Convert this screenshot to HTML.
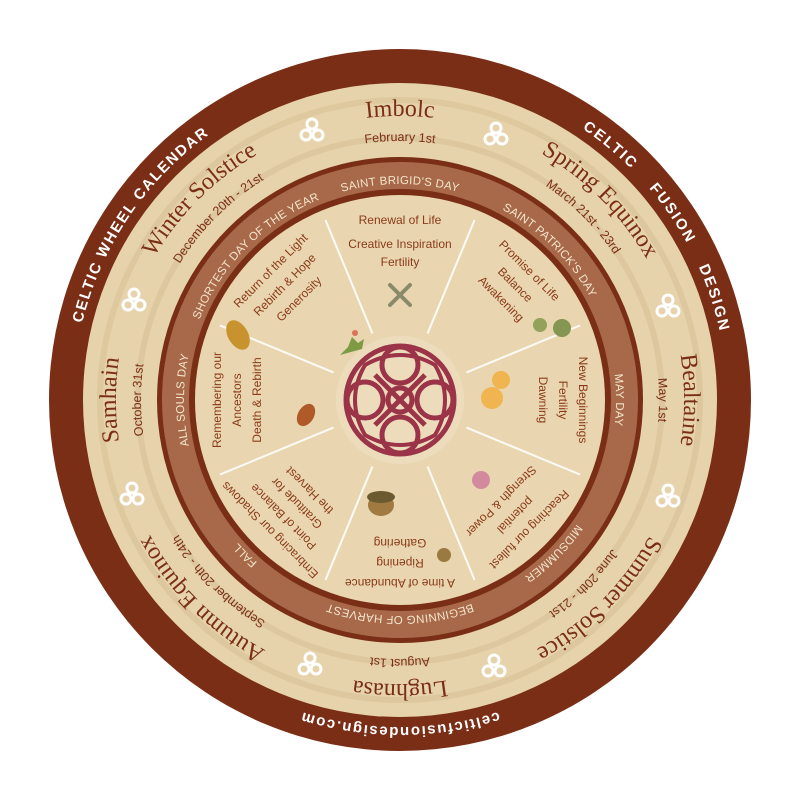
<!DOCTYPE html>
<html><head><meta charset="utf-8"><style>
html,body{margin:0;padding:0;background:#fff;width:800px;height:800px;overflow:hidden}
svg{display:block}
.t{font-family:"Liberation Serif",serif;font-size:24px;fill:#7a2e16}
.d{font-family:"Liberation Sans",sans-serif;font-size:12.5px;fill:#7a2e16}
.r{font-family:"Liberation Sans",sans-serif;font-size:11.5px;fill:#f3e6cc;letter-spacing:0.3px}
.o{font-family:"Liberation Sans",sans-serif;font-size:15px;fill:#fff;font-weight:bold;letter-spacing:1.6px}
.i{font-family:"Liberation Sans",sans-serif;font-size:12px;fill:#8a3a1a;text-anchor:middle}
</style></head><body>
<svg width="800" height="800" viewBox="0 0 800 800" xmlns="http://www.w3.org/2000/svg">
<defs>
<path id="p327" d="M 116.8 236.5 A 327 327 0 0 1 683.2 236.5"/>
<path id="p284" d="M 154 258 A 284 284 0 0 1 646 258"/>
<path id="p259" d="M 175.7 270.5 A 259 259 0 0 1 624.3 270.5"/>
<path id="p216" d="M 212.9 292 A 216 216 0 0 1 587.1 292"/>
<g id="tri" fill="none" stroke="#fff" stroke-width="3">
<circle cx="0" cy="-6" r="5"/><circle cx="-6" cy="5" r="5"/><circle cx="6" cy="5" r="5"/>
</g>
</defs>
<circle cx="400" cy="400" r="351" fill="#7a2e16"/>
<circle cx="400" cy="400" r="317" fill="#e6d2ab"/>
<g fill="none" stroke="#dcc59b" stroke-width="6" opacity="0.8">
<circle cx="400" cy="400" r="300"/><circle cx="400" cy="400" r="262" />
</g>
<circle cx="400" cy="400" r="243" fill="#7a2e16"/>
<circle cx="400" cy="400" r="238" fill="#a8694a"/>
<circle cx="400" cy="400" r="211" fill="#7a2e16"/>
<circle cx="400" cy="400" r="205" fill="#e9d6b0"/>
<g stroke="#fff" stroke-width="2" opacity="0.9">
<g id="sp"><line x1="400" y1="328" x2="400" y2="205" transform="rotate(22.5 400 400)"/></g>
<use href="#sp" transform="rotate(45 400 400)"/><use href="#sp" transform="rotate(90 400 400)"/>
<use href="#sp" transform="rotate(135 400 400)"/><use href="#sp" transform="rotate(180 400 400)"/>
<use href="#sp" transform="rotate(225 400 400)"/><use href="#sp" transform="rotate(270 400 400)"/>
<use href="#sp" transform="rotate(315 400 400)"/>
</g>
<circle cx="400" cy="400" r="64" fill="#ecdcbc"/>
<g fill="none" stroke="#9b3448" stroke-width="5">
<circle cx="400" cy="400" r="54"/>
<circle cx="400" cy="365" r="18"/><circle cx="400" cy="435" r="18"/>
<circle cx="365" cy="400" r="18"/><circle cx="435" cy="400" r="18"/>
<path d="M375 375 L425 425 M425 375 L375 425"/>
<circle cx="400" cy="400" r="12"/>
<path d="M365 365 Q400 345 435 365 Q455 400 435 435 Q400 455 365 435 Q345 400 365 365 Z" stroke-width="4"/>
</g>
<g>
<use href="#tri" transform="translate(312,130)"/><use href="#tri" transform="translate(496,134)"/>
<use href="#tri" transform="translate(668,306)"/><use href="#tri" transform="translate(668,496)"/>
<use href="#tri" transform="translate(494,666)"/><use href="#tri" transform="translate(310,664)"/>
<use href="#tri" transform="translate(132,494)"/><use href="#tri" transform="translate(134,300)"/>
</g>
<g text-anchor="middle">
<g transform="rotate(-56 400 400)"><text class="o"><textPath href="#p327" startOffset="50%">CELTIC WHEEL CALENDAR</textPath></text></g>
<g transform="rotate(56 400 400)"><text class="o" style="letter-spacing:2px" xml:space="preserve"><textPath href="#p327" startOffset="50%">CELTIC    FUSION    DESIGN</textPath></text></g>
<g transform="rotate(180 400 400)"><text class="o" style="letter-spacing:1.5px"><textPath href="#p327" startOffset="50%">celticfusiondesign.com</textPath></text></g>
</g>
<g text-anchor="middle">
<g transform="rotate(0 400 400)"><text class="t"><textPath href="#p284" startOffset="50%">Imbolc</textPath></text><text class="d"><textPath href="#p259" startOffset="50%">February 1st</textPath></text><text class="r"><textPath href="#p216" startOffset="50%">SAINT BRIGID'S DAY</textPath></text></g>
<g transform="rotate(45 400 400)"><text class="t"><textPath href="#p284" startOffset="50%">Spring Equinox</textPath></text><text class="d"><textPath href="#p259" startOffset="50%">March 21st - 23rd</textPath></text><text class="r"><textPath href="#p216" startOffset="50%">SAINT PATRICK'S DAY</textPath></text></g>
<g transform="rotate(90 400 400)"><text class="t"><textPath href="#p284" startOffset="50%">Bealtaine</textPath></text><text class="d"><textPath href="#p259" startOffset="50%">May 1st</textPath></text><text class="r"><textPath href="#p216" startOffset="50%">MAY DAY</textPath></text></g>
<g transform="rotate(135 400 400)"><text class="t"><textPath href="#p284" startOffset="50%">Summer Solstice</textPath></text><text class="d"><textPath href="#p259" startOffset="50%">June 20th - 21st</textPath></text><text class="r"><textPath href="#p216" startOffset="50%">MIDSUMMER</textPath></text></g>
<g transform="rotate(180 400 400)"><text class="t"><textPath href="#p284" startOffset="50%">Lughnasa</textPath></text><text class="d"><textPath href="#p259" startOffset="50%">August 1st</textPath></text><text class="r"><textPath href="#p216" startOffset="50%">BEGINNING OF HARVEST</textPath></text></g>
<g transform="rotate(225 400 400)"><text class="t"><textPath href="#p284" startOffset="50%">Autumn Equinox</textPath></text><text class="d"><textPath href="#p259" startOffset="50%">September 20th - 24th</textPath></text><text class="r"><textPath href="#p216" startOffset="50%">FALL</textPath></text></g>
<g transform="rotate(270 400 400)"><text class="t"><textPath href="#p284" startOffset="50%">Samhain</textPath></text><text class="d"><textPath href="#p259" startOffset="50%">October 31st</textPath></text><text class="r"><textPath href="#p216" startOffset="50%">ALL SOULS DAY</textPath></text></g>
<g transform="rotate(315 400 400)"><text class="t"><textPath href="#p284" startOffset="50%">Winter Solstice</textPath></text><text class="d"><textPath href="#p259" startOffset="50%">December 20th - 21st</textPath></text><text class="r"><textPath href="#p216" startOffset="50%">SHORTEST DAY OF THE YEAR</textPath></text></g>
</g>
<g>
<g transform="rotate(0 400 400)"><text class="i" x="400" y="224">Renewal of Life</text><text class="i" x="400" y="248">Creative Inspiration</text><text class="i" x="400" y="266">Fertility</text></g>
<g transform="rotate(45 400 400)"><text class="i" x="400" y="221">Promise of Life</text><text class="i" x="400" y="241">Balance</text><text class="i" x="400" y="261">Awakening</text></g>
<g transform="rotate(90 400 400)"><text class="i" x="400" y="221">New Beginnings</text><text class="i" x="400" y="241">Fertility</text><text class="i" x="400" y="261">Dawning</text></g>
<g transform="rotate(135 400 400)"><text class="i" x="400" y="221">Reaching our fullest</text><text class="i" x="400" y="241">potential</text><text class="i" x="400" y="261">Strength &amp; Power</text></g>
<g transform="rotate(180 400 400)"><text class="i" x="400" y="221">A time of Abundance</text><text class="i" x="400" y="241">Ripening</text><text class="i" x="400" y="261">Gathering</text></g>
<g transform="rotate(225 400 400)"><text class="i" x="400" y="220">Embracing our Shadows</text><text class="i" x="400" y="239">Point of Balance</text><text class="i" x="400" y="258">Gratitude for</text><text class="i" x="400" y="276">the Harvest</text></g>
<g transform="rotate(270 400 400)"><text class="i" x="400" y="221">Remembering our</text><text class="i" x="400" y="241">Ancestors</text><text class="i" x="400" y="261">Death &amp; Rebirth</text></g>
<g transform="rotate(315 400 400)"><text class="i" x="400" y="221">Return of the Light</text><text class="i" x="400" y="241">Rebirth &amp; Hope</text><text class="i" x="400" y="261">Generosity</text></g>
</g>
<!-- icons -->
<g stroke="#8a8a6a" stroke-width="4" stroke-linecap="round"><path d="M390 285 L410 305 M410 285 L390 305"/></g>
<path d="M340 355 l8 -8 l4 -10 l6 6 l6 -4 l-2 10 z" fill="#7f9a45"/><circle cx="355" cy="333" r="3" fill="#d9735a"/>
<ellipse cx="238" cy="335" rx="10" ry="16" fill="#c8922e" transform="rotate(-30 238 335)"/>
<ellipse cx="306" cy="415" rx="8" ry="12" fill="#b05a2a" transform="rotate(30 306 415)"/>
<circle cx="540" cy="325" r="7" fill="#93a25a"/><circle cx="562" cy="328" r="9" fill="#849651"/>
<circle cx="501" cy="380" r="9" fill="#f0b451"/><circle cx="492" cy="398" r="11" fill="#f0b451"/>
<circle cx="481" cy="480" r="9" fill="#d38a9e"/>
<ellipse cx="381" cy="505" rx="13" ry="11" fill="#a07a40"/><ellipse cx="381" cy="497" rx="14" ry="6" fill="#6b5a30"/>
<circle cx="444" cy="555" r="7" fill="#9a7a40"/>
</svg>
</body></html>
